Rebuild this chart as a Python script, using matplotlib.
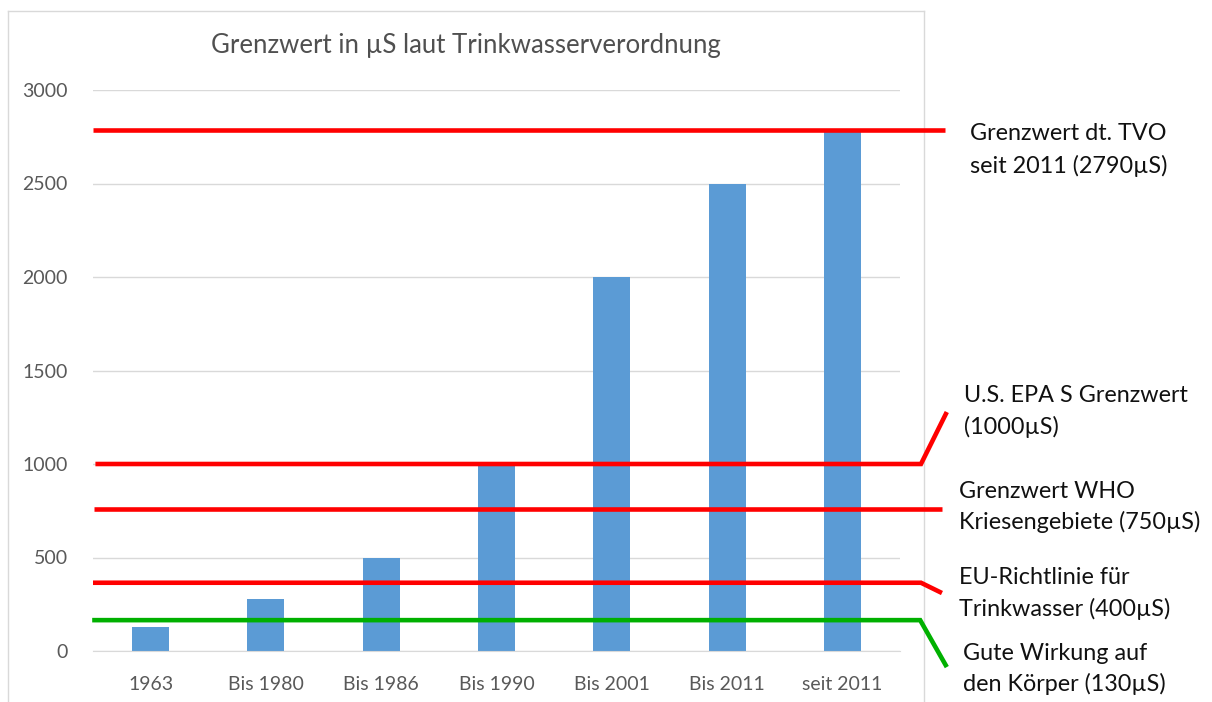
import matplotlib
matplotlib.use("Agg")
import matplotlib.pyplot as plt
import matplotlib.transforms as mtransforms
from matplotlib.lines import Line2D

plt.rcParams['font.family'] = ['Lato', 'DejaVu Sans']

# ---- data ----
categories = ["1963", "Bis 1980", "Bis 1986", "Bis 1990", "Bis 2001", "Bis 2011", "seit 2011"]
values = [130, 280, 500, 1000, 2000, 2500, 2790]
yticks = [0, 500, 1000, 1500, 2000, 2500, 3000]
title = "Grenzwert in µS laut Trinkwasserverordnung"

# reference lines (as drawn in the picture)
ref_values = [2788, 1000, 760, 365, 165]
ref_labels = [
    ["Grenzwert dt. TVO", "seit 2011 (2790µS)"],
    ["U.S. EPA S Grenzwert", "(1000µS)"],
    ["Grenzwert WHO", "Kriesengebiete (750µS)"],
    ["EU-Richtlinie für", "Trinkwasser (400µS)"],
    ["Gute Wirkung auf", "den Körper (130µS)"],
]

# ---- styles / geometry ----
ref_colors = ["#FF0000", "#FF0000", "#FF0000", "#FF0000", "#00B000"]
# (x_start_axfrac, x_elbow_axfrac, x_end_axfrac, y_end_data)  None elbow -> straight
ref_shapes = [
    (0.0, None, 1.056, None),
    (0.003, 1.026, 1.058, 1278),
    (0.001, None, 1.052, None),
    (0.0, 1.026, 1.052, 310),
    (-0.001, 1.025, 1.058, -86),
]
# label positions (pixels: left x, line1 center y, line2 center y)
label_pos = [(970, 133, 166), (964, 395, 427), (959, 491, 522), (959, 578, 609), (963, 653, 684)]

W, H = 1212, 702
fig = plt.figure(figsize=(W / 100, H / 100), dpi=100)
fig.patch.set_facecolor("white")

# chart-area border
border = "#D9D9D9"
for xs, ys in [([8, 8], [11, 720]), ([8, 924], [11, 11]), ([924, 924], [11, 720])]:
    fig.add_artist(Line2D([x / W for x in xs], [1 - y / H for y in ys], color=border, lw=1.0,
                          transform=fig.transFigure, zorder=-5))

ax = fig.add_axes([93 / W, 1 - 651 / H, 807 / W, 561 / H])
x = list(range(len(categories)))
ax.bar(x, values, width=0.32, color="#5B9BD5", zorder=2)
ax.set_xlim(-0.5, len(categories) - 0.5)
ax.set_ylim(0, 3000)
ax.set_yticks(yticks)
ax.set_xticks(x)
ax.set_xticklabels(categories)
ax.yaxis.grid(True, color="#D9D9D9", lw=1.0, zorder=0)
ax.set_axisbelow(True)
for s in ["top", "right", "left"]:
    ax.spines[s].set_visible(False)
ax.spines["bottom"].set_color("#D9D9D9")
ax.tick_params(axis="both", length=0, colors="#595959", labelsize=14)
ax.tick_params(axis="y", pad=18)
ax.tick_params(axis="x", pad=18)
ax.set_facecolor("none")

fig.text(466 / W, 1 - 45 / H, title, ha="center", va="center", fontsize=18.5, color="#505050")

trans = mtransforms.blended_transform_factory(ax.transAxes, ax.transData)
for val, col, shp in zip(ref_values, ref_colors, ref_shapes):
    x0, xe, x1, y1 = shp
    if xe is None:
        xs, ys = [x0, x1], [val, val]
    else:
        xs, ys = [x0, xe, x1], [val, val, y1]
    ax.add_line(Line2D(xs, ys, color=col, lw=3.3, transform=trans, clip_on=False, zorder=5,
                       solid_joinstyle="miter", solid_capstyle="butt"))

for lines, (px, py1, py2) in zip(ref_labels, label_pos):
    for t, py in zip(lines, (py1, py2)):
        fig.text(px / W, 1 - py / H, t, ha="left", va="center", fontsize=16.8, color="#111111")

fig.savefig("out.png", dpi=100, facecolor="white")
